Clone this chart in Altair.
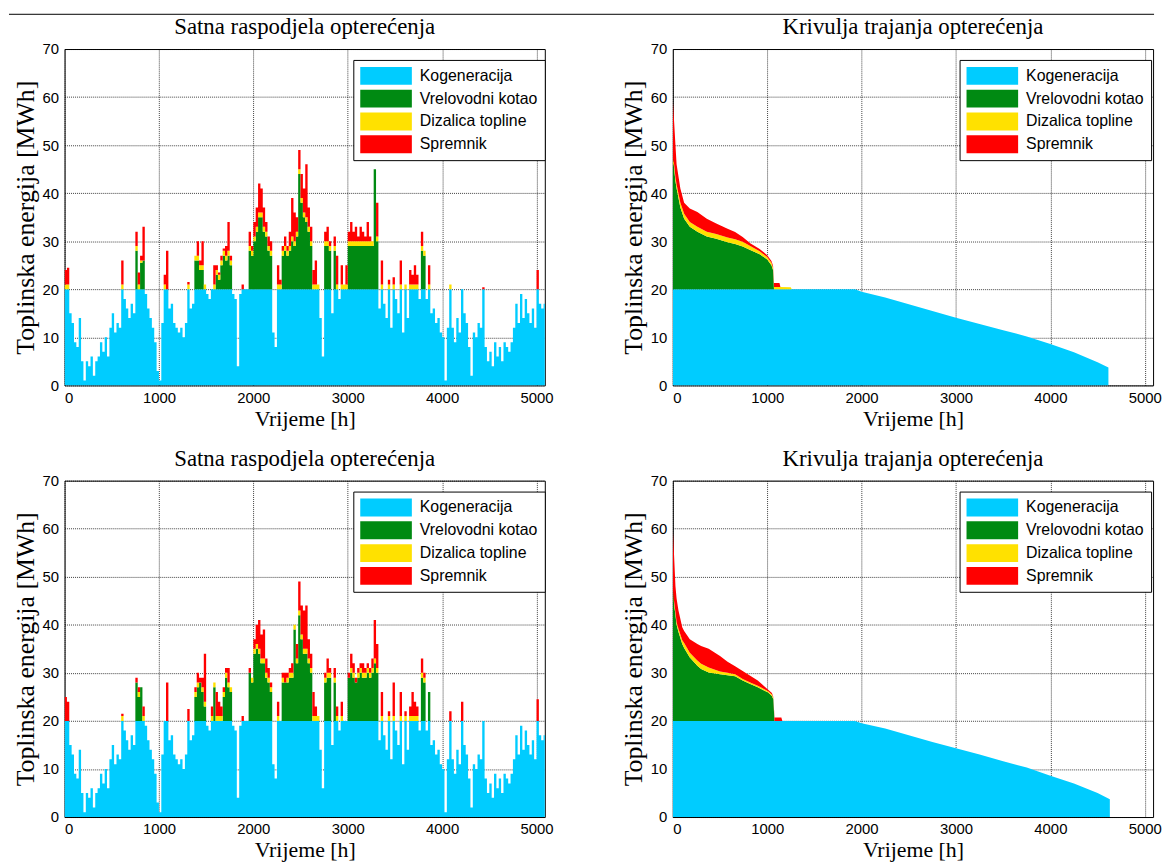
import altair as alt
import pandas as pd

SERIJE = ["Kogeneracija", "Vrelovodni kotao", "Dizalica topline", "Spremnik"]
BOJE = ["#00CCFF", "#008A12", "#FFE100", "#FF0000"]

KORAK = 25  # sati po stupcu

# Kogeneracija [MWh], stupci po 25 h (0 ... 5075 h)
kogeneracija = [
    20, 20, 15, 13, 9, 8, 14, 5, 1, 5, 4, 6, 2, 5, 6, 9, 7, 10, 6, 12,
    15, 11, 13, 12, 20, 18, 16, 14, 17, 15, 20, 20, 20, 20, 19, 16, 14, 12, 9, 3,
    1, 13, 20, 20, 16, 17, 13, 12, 11, 12, 10, 13, 20, 16, 17, 20, 20, 20, 20, 20,
    19, 18, 20, 20, 20, 20, 20, 20, 20, 20, 20, 19, 18, 4, 19, 20, 20, 20, 20, 20,
    20, 20, 20, 20, 20, 20, 20, 20, 11, 8, 20, 20, 20, 20, 20, 20, 20, 20, 20, 20,
    20, 20, 20, 20, 20, 20, 20, 20, 14, 6, 20, 20, 20, 15, 20, 20, 18, 20, 20, 20,
    20, 20, 20, 20, 20, 20, 20, 20, 20, 20, 20, 20, 20, 16, 20, 17, 14, 20, 12, 20,
    18, 15, 20, 11, 20, 14, 20, 20, 20, 20, 18, 20, 20, 18, 20, 15, 16, 13, 14, 11,
    10, 1, 12, 20, 12, 9, 14, 11, 20, 15, 13, 8, 2, 11, 10, 13, 12, 20, 8, 5,
    7, 4, 9, 6, 8, 5, 9, 8, 7, 9, 12, 17, 13, 19, 14, 18, 15, 13, 16, 12, 20, 17, 16, 17,
]

# Vršna opterećenja, gornji lijevi graf: sat, kotao, dizalica, spremnik
vrh1_sati = [0, 25, 600, 750, 775, 800, 825, 1050, 1075, 1300, 1375, 1400, 1425, 1450, 1475,
             1575, 1600, 1625, 1650, 1675, 1700, 1725, 1750, 1875, 1950, 1975, 2000, 2025,
             2050, 2075, 2100, 2125, 2150, 2175, 2250, 2275, 2300, 2325, 2350, 2375, 2400,
             2425, 2450, 2475, 2500, 2525, 2550, 2575, 2600, 2625, 2650, 2675, 2750, 2775,
             2800, 2850, 2875, 2925, 2950, 2975, 3000, 3025, 3050, 3075, 3100, 3125, 3150,
             3175, 3200, 3225, 3250, 3275, 3300, 3350, 3425, 3475, 3550, 3600, 3650, 3675,
             3700, 3725, 3775, 3800, 3850, 4075, 4425, 5000]
vrh1_kotao = [0, 0, 0, 8, 0, 5.5, 6, 0, 0, 0, 6, 6, 4, 4, 0,
              0, 3, 2, 5, 7, 6, 7, 5, 0, 8, 7, 10, 12,
              15, 15, 12, 11, 8, 7, 0, 0, 7, 8, 7, 8, 10,
              9, 11, 24, 18, 15, 14, 12, 9, 0, 0, 0, 9, 9,
              8, 8, 0, 0, 0, 0, 9, 9, 9, 9, 9, 9, 9,
              9, 9, 9, 9, 25, 10, 0, 0, 0, 0, 0, 0, 0,
              0, 0, 8, 7, 0, 0, 0, 0]
vrh1_dizalica = [1, 1, 1, 1, 1, 0.5, 0, 1, 0, 1, 1, 1, 1, 1, 1,
                 1, 1, 1, 1, 1, 1, 1, 1, 0, 1, 1, 1, 1,
                 1, 1, 1, 1, 1, 1, 1, 1, 1, 1, 1, 1, 1,
                 1, 1, 1, 1, 1, 1, 1, 1, 1, 1, 1, 1, 1,
                 1, 1, 1, 1, 1, 1, 1, 1, 1, 1, 1, 1, 1,
                 1, 1, 1, 1, 0, 1, 1, 1, 1, 1, 1, 1, 1,
                 1, 1, 1, 1, 1, 1, 0, 0]
vrh1_spremnik = [3, 3.5, 5, 3, 2.5, 1, 7, 2, 8, 0.5, 0, 3, 1, 5, 0,
                 4, 1, 0.5, 1, 0.5, 2, 6, 1, 1, 3, 1, 3, 4,
                 6, 5, 4, 2, 2, 2, 4, 1, 1, 2, 1, 3, 8,
                 6, 3, 4, 5, 5, 11, 4, 3, 3, 5, 0, 2, 3,
                 1, 2, 6, 4, 0, 4, 2, 4, 2, 3, 1, 3, 2,
                 1, 4, 1, 0, 0, 7, 5, 1, 1.5, 5, 0, 3, 2,
                 4, 2, 3, 0, 4, 0, 0.4, 4]

# Vršna opterećenja, donji lijevi graf
vrh2_sati = [0, 25, 600, 750, 775, 800, 825, 1075, 1300, 1375, 1400, 1425, 1450, 1475, 1550,
             1575, 1600, 1625, 1650, 1675, 1700, 1725, 1750, 1875, 1950, 1975, 2000, 2025,
             2050, 2075, 2100, 2125, 2150, 2175, 2250, 2300, 2325, 2350, 2375, 2400, 2425,
             2450, 2475, 2500, 2525, 2550, 2575, 2600, 2625, 2650, 2675, 2750, 2775, 2800,
             2850, 2875, 2925, 3000, 3025, 3050, 3075, 3100, 3125, 3150, 3175, 3200, 3225,
             3250, 3275, 3300, 3350, 3425, 3475, 3550, 3600, 3650, 3675, 3700, 3725, 3775,
             3800, 3850, 4075, 4200, 5000]
vrh2_kotao = [0, 0, 0, 8, 5, 7, 0, 0, 0, 5, 7, 8, 6, 3, 0,
              7, 0, 0, 0, 5, 9, 7, 6, 0, 10, 8, 14, 15,
              14, 12, 12, 9, 8, 6, 0, 8, 8, 8, 9, 9, 19,
              12, 22, 17, 14, 14, 12, 10, 0, 0, 0, 8, 9, 9,
              8, 0, 0, 9, 10, 9, 8, 9, 10, 9, 9, 10, 9,
              10, 12, 10, 0, 0, 0, 0, 0, 0, 0, 0, 0, 9,
              8, 6, 0, 0, 0]
vrh2_dizalica = [0, 0, 1, 0, 1, 0, 1, 0, 0, 1, 1, 0, 1, 1, 1,
                 1, 1, 1, 1, 1, 1, 1, 1, 0, 0, 1, 1, 1,
                 1, 1, 1, 1, 1, 1, 1, 1, 0, 1, 1, 1, 1,
                 1, 1, 1, 1, 1, 1, 1, 1, 1, 1, 1, 1, 1,
                 1, 1, 1, 0, 1, 1, 0, 1, 1, 1, 1, 1, 1,
                 1, 1, 1, 1, 1, 1, 1, 1, 1, 1, 1, 1, 1,
                 1, 0, 0, 0, 0]
vrh2_spremnik = [5, 4, 0.5, 1, 1, 0, 2, 8, 2.5, 1, 2, 1, 2, 10, 2,
                 0, 5, 3, 2, 1, 1, 3, 0, 1, 1, 0, 2, 4,
                 6, 5, 6, 3, 2, 1, 3, 1, 2, 1, 1, 2, 0,
                 3, 6, 6, 8, 9, 4, 3, 5, 2, 0, 1, 3, 1,
                 2, 2, 3, 1, 3, 2, 1, 1, 1, 2, 1, 1, 1,
                 2, 8, 5, 5, 1, 7, 5, 1, 2, 5, 3, 2, 3,
                 1, 0, 2, 4, 4.5]

# Krivulja trajanja opterećenja, gornji desni graf
ldc1_sati = [0, 12, 28, 40, 80, 120, 180, 260, 360, 460, 580, 660, 740, 820, 920, 1000,
             1045, 1062, 1072, 1130, 1140, 1250, 1260, 1930, 2000, 2250, 2500, 2750, 3000,
             3250, 3500, 3750, 4000, 4250, 4500, 4615]
ldc1_kog = [20, 20, 20, 20, 20, 20, 20, 20, 20, 20, 20, 20, 20, 20, 20, 20,
            20, 20, 20, 20, 20, 20, 20, 20, 19.5, 18.3, 16.9, 15.5, 14.1,
            12.8, 11.5, 10.2, 8.6, 6.9, 4.8, 3.7]
ldc1_kotao = [26.5, 25.5, 22.5, 21, 17, 14.7, 13, 12, 11, 10.5, 9.8, 9.4, 8.9, 8.2, 7.3, 6.2,
              5, 4, 0, 0, 0, 0, 0, 0, 0, 0, 0, 0, 0,
              0, 0, 0, 0, 0, 0, 0]
ldc1_dizalica = [0.8, 0.8, 0.8, 0.8, 1, 1, 1, 1, 1, 1, 1, 1, 1, 0.8, 0.6, 0.5,
                 0.5, 0.5, 0.5, 0.5, 0.5, 0.4, 0, 0, 0, 0, 0, 0, 0,
                 0, 0, 0, 0, 0, 0, 0]
ldc1_spremnik = [12.2, 9.2, 6.7, 4.2, 3, 2.3, 2.8, 3.1, 2.7, 2.2, 1.8, 1.5, 1.0, 0.6, 0.5, 0.4,
                 0.4, 0.4, 0.8, 0.8, 0, 0, 0, 0, 0, 0, 0, 0, 0,
                 0, 0, 0, 0, 0, 0, 0]

# Krivulja trajanja opterećenja, donji desni graf
ldc2_sati = [0, 12, 28, 40, 60, 100, 120, 180, 260, 300, 380, 500, 580, 660, 740, 820, 900,
             1010, 1050, 1065, 1077, 1150, 1160, 1930, 2000, 2250, 2500, 2750, 3000, 3250,
             3500, 3750, 4000, 4250, 4500, 4630]
ldc2_kog = [20, 20, 20, 20, 20, 20, 20, 20, 20, 20, 20, 20, 20, 20, 20, 20, 20,
            20, 20, 20, 20, 20, 20, 20, 19.5, 18.4, 17.0, 15.6, 14.3, 13.0,
            11.6, 10.3, 8.6, 7.0, 5.0, 3.7]
ldc2_kotao = [27, 24.5, 22, 20, 18.5, 16, 15.2, 13.2, 11.5, 10.8, 10.1, 9.7, 9.5, 9.3, 8.4, 7.7, 7,
              5.9, 5.2, 4.5, 0, 0, 0, 0, 0, 0, 0, 0, 0, 0,
              0, 0, 0, 0, 0, 0]
ldc2_dizalica = [0.6, 0.6, 0.6, 0.6, 0.7, 0.8, 1, 1, 1.1, 1.1, 1, 0.6, 0.5, 0.4, 0.3, 0.3, 0.3,
                 0.3, 0.3, 0.3, 0, 0, 0, 0, 0, 0, 0, 0, 0, 0,
                 0, 0, 0, 0, 0, 0]
ldc2_spremnik = [12.4, 9.9, 5.4, 4.9, 3.8, 2.7, 2.5, 2.8, 3.4, 3.7, 3.9, 3.2, 2.3, 1.7, 1.7, 1.4, 1.1,
                 0.3, 0.3, 0.2, 0.7, 0.7, 0, 0, 0, 0, 0, 0, 0, 0,
                 0, 0, 0, 0, 0, 0]

X_MAX = 5088
W, H = 484, 339


def slozi(sati, slojevi):
    redovi = []
    for i, h in enumerate(sati):
        dno = 0.0
        for s, sloj in zip(SERIJE, slojevi):
            v = sloj[i]
            redovi.append({"sat": h, "serija": s, "y0": dno, "y1": dno + v})
            dno += v
    return pd.DataFrame(redovi)


def satni_df(vs, vk, vd, vsp):
    dod = {h: (a, b, c) for h, a, b, c in zip(vs, vk, vd, vsp)}
    sati = [KORAK * i for i in range(len(kogeneracija))]
    k, g, d, r = [], [], [], []
    for h, kv in zip(sati, kogeneracija):
        a, b, c = dod.get(h, (0, 0, 0))
        k.append(kv); g.append(a); d.append(b); r.append(c)
    # zatvaranje zadnjeg stupca
    sati.append(KORAK * len(kogeneracija))
    k.append(k[-1]); g.append(g[-1]); d.append(d[-1]); r.append(r[-1])
    return slozi(sati, [k, g, d, r])


def legenda(lx):
    return alt.Legend(
        title=None, orient="none", legendX=lx, legendY=11, direction="vertical",
        symbolType="M-2.889,-1H2.889V1H-2.889Z", symbolSize=324, symbolStrokeWidth=0,
        symbolOpacity=1, symbolOffset=17, labelOffset=25,
        labelFont="Liberation Sans", labelFontSize=16, labelColor="black",
        padding=7, rowPadding=5, strokeColor="black",
        fillColor="white", cornerRadius=0,
    )


def panel(df, naslov, interp, lx, zaglavlje=False):
    boja = alt.Color("serija:N", scale=alt.Scale(domain=SERIJE, range=BOJE),
                     sort=SERIJE, legend=legenda(lx))
    povrsine = alt.Chart(df).mark_area(interpolate=interp, clip=True, opacity=1).encode(
        x=alt.X("sat:Q", scale=alt.Scale(domain=[0, X_MAX], nice=False, zero=True),
                axis=alt.Axis(values=[0, 1000, 2000, 3000, 4000, 5000], format="d",
                              title="Vrijeme [h]",
                              titleFontSize=22, labelPadding=5, titlePadding=3)),
        y=alt.Y("y1:Q", scale=alt.Scale(domain=[0, 70], nice=False),
                axis=alt.Axis(values=[0, 10, 20, 30, 40, 50, 60, 70],
                              title="Toplinska energija [MWh]", titleFontSize=26,
                              labelPadding=6, titlePadding=4)),
        y2="y0:Q",
        color=boja,
        detail="serija:N",
    )
    naslov_txt = alt.Chart(pd.DataFrame({"t": [naslov]})).mark_text(
        font="Liberation Serif", fontSize=23, color="black", align="center",
        baseline="alphabetic",
    ).encode(x=alt.value(W / 2), y=alt.value(-15), text="t:N")
    slojevi = [povrsine, naslov_txt]
    if zaglavlje:
        # linija zaglavlja stranice
        slojevi.append(
            alt.Chart(pd.DataFrame({"a": [0]})).mark_rule(color="black", strokeWidth=1).encode(
                x=alt.value(-56), x2=alt.value(1098), y=alt.value(-35))
        )
    return alt.layer(*slojevi).properties(width=W, height=H)


p1 = panel(satni_df(vrh1_sati, vrh1_kotao, vrh1_dizalica, vrh1_spremnik),
           "Satna raspodjela opterećenja", "step-after", 291, zaglavlje=True)
p2 = panel(slozi(ldc1_sati, [ldc1_kog, ldc1_kotao, ldc1_dizalica, ldc1_spremnik]),
           "Krivulja trajanja opterećenja", "linear", 289)
p3 = panel(satni_df(vrh2_sati, vrh2_kotao, vrh2_dizalica, vrh2_spremnik),
           "Satna raspodjela opterećenja", "step-after", 291)
p4 = panel(slozi(ldc2_sati, [ldc2_kog, ldc2_kotao, ldc2_dizalica, ldc2_spremnik]),
           "Krivulja trajanja opterećenja", "linear", 289)

chart = alt.concat(
    p1, p2, p3, p4, columns=2, spacing={"row": 96, "column": 129}, bounds="flush"
).resolve_scale(color="independent").resolve_legend(color="independent").configure(
    padding={"left": 0, "top": 2, "right": 0, "bottom": 0},
    background="white",
).configure_view(stroke="black", strokeWidth=1).configure_axis(
    labelFont="Liberation Sans", labelFontSize=15, labelColor="black",
    titleFont="Liberation Serif", titleFontWeight="normal", titleColor="black",
    domain=False, ticks=False, grid=True, gridColor="#000", gridOpacity=0.75,
    gridDash=[1, 1], gridWidth=1,
)

chart.save("out.html", embed_options={"renderer": "svg", "actions": False})
